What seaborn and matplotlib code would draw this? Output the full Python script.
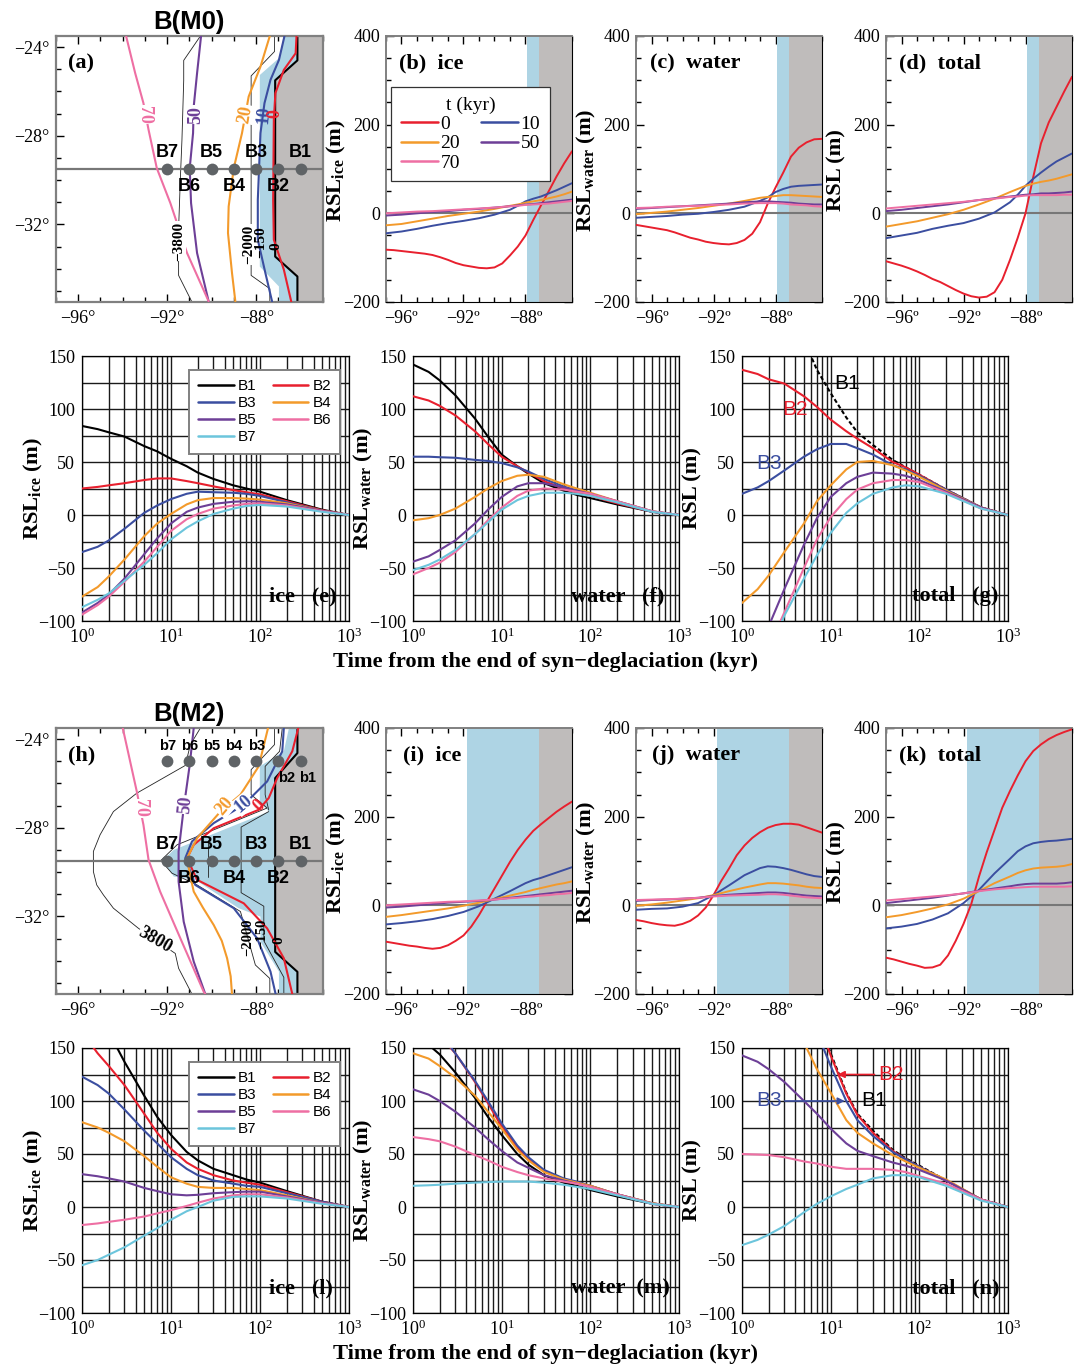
import matplotlib
matplotlib.use("Agg")
import matplotlib.pyplot as plt
import seaborn as sns
import numpy as np
from matplotlib.ticker import FixedLocator, NullFormatter, LogLocator, MultipleLocator

nan = float("nan")

# colours
RED = "#e8202e"
BLUE = "#3b4ea0"
ORANGE = "#f39a2b"
PURPLE = "#6d3f97"
PINK = "#ee6fa3"
CYAN = "#6cc5dc"
SHELF = "#aed4e4"
LAND = "#bfbcbb"
FRAME = "#808080"

# profiles along the transect, per time slice
LON = [-97, -96, -95, -94, -93, -92, -91, -90, -89, -88.5, -88, -87.5, -87, -86.5, -86, -85.5, -85]
LON_FINE = [-97, -96.5, -96, -95.5, -95, -94.5, -94, -93.5, -93, -92.5, -92, -91.5, -91, -90.5, -90, -89.5,
            -89, -88.5, -88, -87.5, -87, -86.5, -86, -85.5, -85]
TIMES = ["0", "10", "20", "50", "70"]

b_t0 = [-82, -83, -85, -87, -89, -91, -94, -99, -105, -112, -117, -120, -123, -124, -122, -113,
        -95, -75, -50, -15, 18, 50, 83, 113, 140]
b_t10 = [-45, -41, -35, -28, -22, -17, -11, -3, 8, 17, 27, 33, 38, 45, 52, 60, 68]
b_t20 = [-27, -24, -18, -12, -6, -1, 4, 10, 17, 20, 24, 27, 30, 34, 38, 43, 49]
b_t50 = [-5, -3, 0, 3, 5, 8, 10, 13, 16, 18, 20, 21, 23, 25, 27, 29, 31]
b_t70 = [0, 2, 4, 5, 7, 9, 11, 13, 16, 17, 19, 20, 21, 22, 24, 26, 28]

c_t0 = [-26, -29, -32, -35, -38, -43, -49, -55, -59, -64, -67, -69, -70, -67, -60, -46,
        -20, 22, 58, 92, 128, 148, 160, 167, 168]
c_t10 = [-10, -8, -6, -3, -1, 3, 8, 15, 28, 36, 48, 55, 60, 62, 63, 64, 65]
c_t20 = [-2, 1, 4, 8, 12, 17, 22, 28, 35, 37, 39, 41, 41, 40, 39, 38, 37]
c_t50 = [10, 12, 14, 16, 18, 20, 22, 25, 27, 27, 26, 25, 24, 22, 21, 20, 20]
c_t70 = [12, 13, 15, 16, 17, 19, 20, 22, 23, 23, 23, 22, 20, 19, 18, 16, 15]

d_t0 = [-108, -113, -118, -124, -131, -139, -148, -155, -164, -173, -181, -187, -190, -188, -178, -150,
        -105, -55, 0, 82, 158, 205, 240, 275, 308]
d_t10 = [-56, -50, -44, -35, -28, -22, -12, 2, 25, 42, 62, 78, 92, 105, 117, 126, 135]
d_t20 = [-30, -24, -18, -10, -2, 8, 20, 33, 48, 55, 62, 67, 71, 74, 78, 83, 88]
d_t50 = [5, 8, 12, 16, 20, 25, 30, 34, 38, 40, 42, 43, 45, 45, 46, 47, 49]
d_t70 = [11, 14, 17, 20, 23, 26, 30, 33, 37, 38, 40, 41, 41, 41, 41, 42, 42]

i_t0 = [-82, -85, -88, -91, -93, -96, -98, -96, -90, -80, -68, -48, -22, 8, 38, 68,
        98, 125, 148, 168, 183, 197, 211, 223, 234]
i_t10 = [-43, -40, -36, -31, -24, -15, -2, 15, 32, 41, 50, 57, 62, 68, 74, 80, 86]
i_t20 = [-26, -22, -17, -12, -7, -1, 6, 14, 22, 26, 30, 35, 39, 43, 47, 50, 54]
i_t50 = [-5, -3, 0, 3, 6, 8, 10, 13, 17, 19, 21, 23, 25, 27, 29, 31, 33]
i_t70 = [0, 2, 4, 6, 8, 9, 11, 13, 16, 17, 19, 20, 22, 23, 25, 26, 28]

j_t0 = [-33, -36, -40, -43, -45, -46, -42, -35, -23, -5, 23, 55, 83, 113, 135, 152,
        165, 175, 181, 184, 184, 182, 176, 170, 164]
j_t10 = [-10, -8, -7, -3, 5, 23, 45, 68, 84, 88, 87, 84, 80, 75, 70, 66, 64]
j_t20 = [-1, 2, 6, 11, 16, 23, 32, 40, 47, 50, 50, 49, 47, 45, 42, 40, 39]
j_t50 = [10, 12, 13, 15, 17, 21, 24, 26, 28, 29, 29, 28, 26, 24, 22, 21, 20]
j_t70 = [12, 13, 14, 15, 17, 20, 22, 23, 24, 25, 25, 24, 22, 20, 18, 17, 16]

k_t0 = [-118, -122, -127, -132, -136, -141, -140, -134, -113, -80, -42, 3, 65, 120, 170, 220,
        258, 293, 325, 348, 363, 375, 384, 391, 397]
k_t10 = [-52, -48, -42, -32, -18, 5, 35, 72, 105, 122, 133, 140, 143, 145, 146, 148, 150]
k_t20 = [-27, -22, -15, -7, 2, 15, 32, 50, 65, 73, 79, 83, 85, 86, 87, 89, 93]
k_t50 = [5, 9, 13, 17, 22, 27, 33, 38, 43, 46, 48, 49, 49, 49, 49, 50, 52]
k_t70 = [11, 14, 17, 20, 23, 27, 32, 36, 39, 40, 41, 42, 42, 42, 42, 42, 43]

# time series at the seven sites
T = [1, 1.5, 2, 3, 5, 7, 10, 15, 20, 30, 50, 70, 100, 200, 500, 1000]
SITES = ["B1", "B2", "B3", "B4", "B5", "B6", "B7"]

e_b1 = [84, 81, 78, 74, 65, 60, 53, 46, 40, 34, 28, 25, 22, 14, 5, 0]
e_b2 = [25, 26.5, 28, 30, 33, 34.5, 34.5, 32, 30, 27, 23.5, 21.5, 19.5, 13, 4.5, 0]
e_b3 = [-35, -30, -24, -13, 2, 9, 15, 20, 22, 21.5, 21, 20, 18, 12, 4, 0]
e_b4 = [-77, -68, -58, -42, -20, -8, 1, 10, 14, 16, 16, 15.5, 14.5, 11, 4, 0]
e_b5 = [-92, -83, -75, -60, -37, -22, -8, 3, 7, 10.5, 12.5, 13, 12.5, 10, 4, 0]
e_b6 = [-94, -85, -77, -63, -44, -30, -15, -4, 1, 6, 9, 10.5, 11, 9, 3.5, 0]
e_b7 = [-87, -80, -74, -62, -47, -36, -23, -12, -6, 1, 6, 8.5, 9.5, 8, 3, 0]

f_b1 = [142, 135, 127, 113, 91, 74, 57, 46, 39, 30, 23, 19, 16, 10, 3, 0]
f_b2 = [112, 108, 103, 94, 79, 67, 55, 46, 40, 32, 25, 21, 18, 11, 3, 0]
f_b3 = [55, 55, 54.5, 54, 52, 51, 49, 45, 41, 34, 27, 23, 20, 12, 3, 0]
f_b4 = [-5, -3, 0, 6, 17, 25, 32, 37, 38, 36, 29, 25, 21, 13, 3.5, 0]
f_b5 = [-44, -39, -33, -24, -8, 5, 17, 27, 30, 30, 26, 23, 20, 13, 3.5, 0]
f_b6 = [-56, -50, -45, -35, -18, -5, 7, 18, 23, 25, 24, 22, 20, 13, 3.5, 0]
f_b7 = [-52, -47, -42, -33, -18, -7, 5, 14, 18, 21, 21, 20, 18, 12, 3, 0]

g_b1 = [nan, nan, nan, nan, 165, 137, 115, 92, 78, 66, 52, 45, 38, 24, 7, 0]
g_b2 = [137, 133, 128, 124, 112, 102, 90, 79, 72, 63, 50, 45, 38, 24, 7, 0]
g_b3 = [20, 26, 32, 42, 55, 62, 67, 67, 63, 57, 47, 43, 37, 24, 7, 0]
g_b4 = [-83, -70, -57, -35, -8, 13, 28, 43, 50, 51, 47, 42, 36, 23, 7, 0]
g_b5 = [nan, nan, -105, -70, -28, -3, 17, 30, 36, 40, 39, 37, 33, 22, 7, 0]
g_b6 = [nan, nan, -125, -92, -50, -23, -2, 15, 24, 30, 33, 33, 31, 21, 6, 0]
g_b7 = [nan, nan, -130, -95, -60, -38, -17, 2, 11, 20, 26, 28, 27, 20, 6, 0]

l_b1 = [nan, nan, 165, 137, 105, 85, 68, 52, 44, 36, 30, 26, 23, 15, 5, 0]
l_b2 = [165, 145, 133, 115, 88, 70, 55, 42, 36, 30, 25, 23, 21, 14, 5, 0]
l_b3 = [123, 115, 107, 92, 72, 60, 47, 36, 30, 25, 22, 20, 19, 13, 5, 0]
l_b4 = [80, 75, 70, 62, 48, 38, 28, 22, 19, 18, 18, 17, 16, 11, 4, 0]
l_b5 = [31, 29, 27, 24, 18, 15, 12, 11, 11.5, 13, 14, 14.5, 14.5, 10, 4, 0]
l_b6 = [-17, -15.5, -14, -12, -9, -6, -3, 1, 4, 8, 11, 12, 12, 9, 3.5, 0]
l_b7 = [-55, -50, -45, -38, -27, -20, -12, -4, 0, 6, 9.5, 10, 10, 8, 3, 0]

m_b1 = [nan, 153, 144, 127, 103, 85, 68, 50, 40, 30, 23, 20, 16, 10, 3, 0]
m_b2 = [nan, nan, 162, 145, 118, 98, 76, 56, 45, 34, 26, 23, 20, 12, 3.5, 0]
m_b3 = [nan, nan, 165, 145, 119, 100, 79, 58, 47, 35, 27, 24, 20, 12, 3.5, 0]
m_b4 = [145, 140, 133, 122, 105, 90, 74, 54, 44, 33, 26, 23, 20, 12, 3.5, 0]
m_b5 = [111, 106, 100, 90, 75, 64, 53, 42, 37, 30, 25, 22, 19, 12, 3, 0]
m_b6 = [66, 64, 62, 57, 49, 44, 38, 33, 30, 27, 24, 22, 19, 12, 3, 0]
m_b7 = [20, 20.5, 21, 22, 23, 23.5, 24, 24, 24, 23, 21, 19, 17, 11, 3, 0]

n_b1 = [nan, nan, nan, nan, nan, 180, 145, 108, 88, 72, 54, 46, 39, 25, 7, 0]
n_b2 = [nan, nan, nan, nan, nan, 180, 143, 107, 87, 70, 53, 45, 38, 25, 7, 0]
n_b3 = [nan, nan, nan, nan, nan, 165, 133, 100, 82, 67, 52, 45, 38, 25, 7, 0]
n_b4 = [nan, nan, nan, nan, 155, 130, 108, 82, 70, 60, 49, 43, 37, 26, 7, 0]
n_b5 = [143, 137, 130, 118, 100, 88, 74, 60, 53, 48, 42, 39, 35, 25, 7, 0]
n_b6 = [50, 49.5, 49, 47, 43, 41, 38, 36, 36, 36, 35, 33, 29, 22, 7, 0]
n_b7 = [-36, -31, -26, -18, -5, 3, 10, 17, 21, 27, 30, 30, 28, 20, 6, 0]

# map (a): coast, shelf edge, depth contours and zero lines
a_coast_lon = [-86.15, -86.15, -87.15, -87.15, -86.15, -86.15]
a_coast_lat = [-23.5, -24.6, -25.5, -33.45, -34.35, -35.5]
a_shelf_lon = [-86.76, -86.98, -87.84, -87.84, -86.98, -86.98]
a_shelf_lat = [-23.5, -24.5, -25.26, -33.9, -34.8, -35.5]
a_2000_lon = [-87.18, -87.18, -88.23, -88.23, -87.39, -87.39]
a_2000_lat = [-23.5, -24.2, -25.3, -34.3, -34.9, -35.5]
a_3800_lon = [-90.51, -91.26, -91.26, -91.34, -91.41, -91.49, -91.49, -90.89]
a_3800_lat = [-23.5, -24.6, -25.5, -28.2, -29.9, -32.2, -34.3, -35.5]
a_70_lon = [-93.85, -93.44, -93.07, -92.84, -92.47, -91.86, -91.11, -90.14]
a_70_lat = [-23.5, -25.18, -26.53, -27.73, -29.46, -31.04, -33.29, -35.47]
a_50_lon = [-90.48, -90.66, -90.81, -90.84, -90.99, -90.93, -90.66, -90.14]
a_50_lat = [-23.5, -25.18, -26.68, -27.88, -29.46, -31.04, -33.29, -35.47]
a_20_lon = [-87.39, -87.81, -88.34, -88.64, -89.01, -89.24, -89.27, -89.09, -88.94]
a_20_lat = [-23.5, -24.88, -26.23, -27.88, -29.46, -31.19, -32.39, -34.19, -35.47]
a_10_lon = [-86.73, -86.98, -87.36, -87.63, -87.81, -87.93, -87.93, -87.59, -87.29]
a_10_lat = [-23.5, -24.58, -25.48, -26.53, -27.88, -30.89, -32.69, -34.19, -35.47]
a_0_lon = [-86.19, -86.23, -86.76, -87.14, -87.21, -87.24, -87.21, -86.76, -86.43]
a_0_lat = [-23.5, -24.28, -25.03, -26.08, -27.28, -30.89, -32.69, -34.04, -35.47]

# map (h)
h_coast_lon = [-86.15, -86.15, -87.15, -87.15, -86.15, -86.15]
h_coast_lat = [-23.5, -24.63, -25.76, -33.6, -34.5, -35.5]
h_shelf_lon = [-86.53, -86.76, -87.84, -87.84, -87.44, -91.71, -92.2, -91.71, -90.74, -88.79, -87.81, -87.81, -86.98, -86.98]
h_shelf_lat = [-23.5, -24.55, -25.23, -26.81, -27.27, -29.0, -29.48, -30.2, -30.35, -31.63, -32.01, -33.14, -34.49, -35.5]
h_2000_lon = [-87.18, -87.18, -88.23, -88.23, -87.51, -91.56, -92.29, -91.79, -90.66, -88.71, -88.04, -87.39, -87.39]
h_2000_lat = [-23.5, -24.25, -25.38, -26.51, -27.11, -28.77, -29.48, -30.05, -30.58, -31.78, -34.19, -34.8, -35.5]
h_3800_lon = [-90.51, -90.96, -91.19, -93.37, -94.42, -95.02, -95.32, -95.32, -95.17, -94.87, -94.42, -93.29, -91.64, -91.49, -90.89]
h_3800_lat = [-23.5, -24.25, -25.19, -26.44, -27.27, -28.32, -29.07, -29.98, -30.58, -31.03, -31.63, -32.54, -33.67, -34.34, -35.5]
h_1000_lon = [-87.44, -88.68, -88.68, -87.66, -87.66, -86.76, -86.76]
h_1000_lat = [-27.27, -27.97, -30.93, -31.54, -33.1, -34.75, -35.5]
h_500_lon = [-90.17, -90.17]
h_500_lat = [-28.55, -30.2]
h_200_lon = [-86.83, -86.95, -87.6, -87.6, -87.44]
h_200_lat = [-23.5, -24.55, -25.23, -26.51, -27.2]
h_70_lon = [-94.0, -93.37, -93.07, -92.84, -92.32, -91.41, -90.36, -90.29]
h_70_lat = [-23.5, -26.36, -27.87, -29.45, -30.88, -32.99, -35.4, -35.5]
h_50_lon = [-90.81, -90.99, -91.26, -91.49, -91.49, -91.26, -90.81, -90.29]
h_50_lat = [-23.5, -25.16, -27.11, -29.07, -30.43, -32.24, -34.04, -35.5]
h_20_lon = [-87.47, -87.89, -88.71, -89.61, -90.66, -91.11, -90.98, -90.81, -90.4, -89.91, -89.55, -89.31, -89.15, -89.09]
h_20_lat = [-23.5, -25.23, -26.51, -27.27, -28.47, -29.37, -30.1, -30.88, -31.6, -32.39, -33.1, -33.89, -34.7, -35.5]
h_10_lon = [-86.76, -86.83, -87.51, -88.56, -89.91, -90.89, -91.19, -90.74, -89.01, -87.96, -87.36, -87.13]
h_10_lat = [-23.5, -24.55, -25.91, -26.96, -27.79, -28.62, -29.37, -30.58, -31.63, -32.99, -34.49, -35.5]
h_0_lon = [-86.11, -86.38, -87.06, -87.44, -87.89, -89.91, -90.81, -91.11, -90.66, -88.56, -87.51, -86.76, -86.38]
h_0_lat = [-23.5, -24.55, -25.76, -26.66, -27.19, -28.02, -28.77, -29.37, -30.35, -31.41, -32.54, -33.89, -35.5]

SITE_LON = [-86, -87, -88, -89, -90, -91, -92]
SITE_LAT = -29.5
b_SITE_LAT = -24.98

W, H = 1081, 1367
sns.set_style("ticks")
plt.rcParams["font.family"] = ["Liberation Serif", "DejaVu Serif"]
plt.rcParams["mathtext.fontset"] = "custom"
plt.rcParams["mathtext.rm"] = "Liberation Serif:bold"
plt.rcParams["mathtext.default"] = "rm"
plt.rcParams["axes.unicode_minus"] = True
plt.rcParams["text.color"] = "black"
plt.rcParams["xtick.color"] = "black"
plt.rcParams["ytick.color"] = "black"
plt.rcParams["axes.edgecolor"] = "black"
SANS = "Liberation Sans"

fig = plt.figure(figsize=(W / 100, H / 100), dpi=100, facecolor="white")


def px_axes(x0, y0, x1, y1):
    return fig.add_axes([x0 / W, 1 - y1 / H, (x1 - x0) / W, (y1 - y0) / H])


def px_text(x, y, s, **kw):
    kw.setdefault("ha", "center")
    kw.setdefault("va", "center")
    fig.text(x / W, 1 - y / H, s, **kw)


def draw(ax, x, y, color, lw=1.5, label=None, ls="-", zorder=3):
    sns.lineplot(x=x, y=y, ax=ax, color=color, linewidth=lw, estimator=None, sort=False,
                 legend=False, label=label, linestyle=ls, zorder=zorder)
    ax.set_xlabel("")
    ax.set_ylabel("")


def lon_ticks(ax, degree):
    ax.set_xlim(-97, -85)
    ax.xaxis.set_major_locator(FixedLocator([-96, -92, -88]))
    ax.xaxis.set_minor_locator(MultipleLocator(1))
    ax.set_xticklabels(["\u221296" + degree, "\u221292" + degree, "\u221288" + degree])
    ax.tick_params(which="major", direction="in", top=True, right=True, length=6, width=1,
                   labelsize=13, pad=6)
    ax.tick_params(which="minor", direction="in", top=True, right=True, length=3.5, width=1)


def draw_map(ax, coast, shelf, lines, curves, row_b=False):
    ax.fill(list(shelf[0]) + list(coast[0])[::-1], list(shelf[1]) + list(coast[1])[::-1],
            color=SHELF, lw=0, zorder=1)
    ax.fill(list(coast[0]) + [-85, -85], list(coast[1]) + [-35.5, -23.5], color=LAND, lw=0, zorder=1)
    lon_ticks(ax, "\u00b0")
    ax.set_ylim(-35.5, -23.5)
    ax.yaxis.set_major_locator(FixedLocator([-24, -28, -32]))
    ax.yaxis.set_minor_locator(MultipleLocator(1))
    ax.set_yticklabels(["\u221224\u00b0", "\u221228\u00b0", "\u221232\u00b0"])
    ax.tick_params(axis="y", which="major", pad=5)
    for spine in ax.spines.values():
        spine.set_color(FRAME)
        spine.set_linewidth(1.6)
    draw(ax, coast[0], coast[1], "black", lw=1.5, zorder=2)
    for lo, la in lines:
        draw(ax, lo, la, "#222222", lw=0.6, zorder=2)
    ax.axhline(SITE_LAT, color="#777777", lw=1.6, zorder=3)
    for (lo, la), col in zip(curves, [RED, BLUE, ORANGE, PURPLE, PINK]):
        draw(ax, lo, la, col, lw=1.5, zorder=4)
    sns.scatterplot(x=SITE_LON, y=[SITE_LAT] * 7, ax=ax, color="#5f6366", s=72, linewidth=0,
                    zorder=5, legend=False)
    if row_b:
        sns.scatterplot(x=SITE_LON, y=[b_SITE_LAT] * 7, ax=ax, color="#5f6366", s=72, linewidth=0,
                        zorder=5, legend=False)
    up, low = -28.75, -30.3
    for name, lo, la in zip(SITES, SITE_LON, [up, low, up, low, up, low, up]):
        ax.text(lo, la, name, family=SANS, weight="bold", size=13, ha="center", va="center", zorder=6)


def clabel(ax, x, y, s, color="black", rot=90, size=13, gap=True):
    ax.text(x, y, s, color=color, rotation=rot, size=size, weight="bold", ha="center", va="center",
            rotation_mode="anchor", zorder=6,
            bbox=dict(facecolor="white", edgecolor="none", pad=0.4) if gap else None)


def draw_profile(ax, series, shelf_from):
    ax.axvspan(shelf_from, -87.1, color=SHELF, lw=0, zorder=1)
    ax.axvspan(-87.1, -85, color=LAND, lw=0, zorder=1)
    ax.axhline(0, color="#777777", lw=1.5, zorder=2)
    for name, vals, col in zip(TIMES, series, [RED, BLUE, ORANGE, PURPLE, PINK]):
        x = LON_FINE if len(vals) == len(LON_FINE) else LON
        draw(ax, x, vals, col, lw=1.4, label=name)
    lon_ticks(ax, "\u00ba")
    ax.set_ylim(-200, 400)
    ax.yaxis.set_major_locator(FixedLocator([-200, 0, 200, 400]))
    ax.yaxis.set_minor_locator(MultipleLocator(50))
    ax.set_yticklabels(["\u2212200", "0", "200", "400"])
    ax.tick_params(axis="y", which="major", pad=4)
    ax.spines["left"].set_color(FRAME)
    ax.spines["left"].set_linewidth(1.4)
    ax.spines["top"].set_color(FRAME)
    ax.spines["top"].set_linewidth(1.4)
    for s in ["right", "bottom"]:
        ax.spines[s].set_linewidth(0.8)


def draw_series(ax, series, dashed_b1=False):
    ax.set_xscale("log")
    ax.set_xlim(1, 1000)
    ax.set_ylim(-100, 150)
    ax.xaxis.set_major_locator(LogLocator(base=10, numticks=5))
    ax.xaxis.set_minor_locator(LogLocator(base=10, subs=range(2, 10), numticks=5))
    ax.xaxis.set_minor_formatter(NullFormatter())
    ax.yaxis.set_major_locator(FixedLocator([-100, -50, 0, 50, 100, 150]))
    ax.yaxis.set_minor_locator(FixedLocator([-75, -25, 25, 75, 125]))
    ax.set_yticklabels(["\u2212100", "\u221250", "0", "50", "100", "150"])
    ax.grid(which="both", color="#1a1a1a", lw=1.0)
    ax.set_axisbelow(True)
    ax.tick_params(which="both", length=0, labelsize=13, pad=5)
    for s in ax.spines.values():
        s.set_linewidth(0.9)
    cols = ["black", RED, BLUE, ORANGE, PURPLE, PINK, CYAN]
    for k, (name, vals, col) in enumerate(zip(SITES, series, cols)):
        ls = (0, (2, 1.2)) if (dashed_b1 and k == 0) else "-"
        draw(ax, T, vals, col, lw=1.5, label=name, ls=ls)


def ax_px(ax):
    p = ax.get_position()
    return p.x0 * W, (1 - p.y1) * H, p.width * W, p.height * H


def site_legend(ax, x0, y0):
    h, l = ax.get_legend_handles_labels()
    order = [0, 2, 4, 6, 1, 3, 5]
    ax0, ay0, aw, ah = ax_px(ax)
    leg = ax.legend([h[i] for i in order], [l[i] for i in order], ncol=2, loc="upper left",
                    bbox_to_anchor=((x0 - ax0) / aw, 1 - (y0 - ay0) / ah),
                    frameon=True, fancybox=False, framealpha=1, edgecolor=FRAME, prop={"family": SANS, "size": 11},
                    borderaxespad=0, borderpad=0.6, labelspacing=0.2, handlelength=2.35, handletextpad=0.25,
                    columnspacing=1.05)
    leg.get_frame().set_linewidth(1.4)
    leg.set_zorder(10)
    for line in leg.get_lines():
        line.set_linewidth(1.8)


# top block: M0
ax_a = px_axes(56, 36, 323, 302)
draw_map(ax_a, (a_coast_lon, a_coast_lat), (a_shelf_lon, a_shelf_lat),
         [(a_2000_lon, a_2000_lat), (a_3800_lon, a_3800_lat)],
         [(a_0_lon, a_0_lat), (a_10_lon, a_10_lat), (a_20_lon, a_20_lat), (a_50_lon, a_50_lat), (a_70_lon, a_70_lat)])
clabel(ax_a, -93.02, -27.06, "70", PINK, 270)
clabel(ax_a, -90.74, -27.06, "50", PURPLE, 90)
clabel(ax_a, -88.49, -27.03, "20", ORANGE, 80)
clabel(ax_a, -87.66, -27.06, "10", BLUE, 85, gap=False)
clabel(ax_a, -87.18, -27.0, "0", RED, 90, gap=False)
clabel(ax_a, -87.14, -33.0, "0", "black", 90, 11, gap=False)
clabel(ax_a, -91.49, -32.76, "\u22123800", "black", 90, 11)
clabel(ax_a, -88.34, -32.9, "\u22122000", "black", 90, 11)
clabel(ax_a, -87.8, -32.8, "\u2212150", "black", 90, 11, gap=False)
ax_a.text(-96.45, -24.75, "(a)", weight="bold", size=16, va="center")

ax_b = px_axes(386, 36, 572, 302)
draw_profile(ax_b, [b_t0, b_t10, b_t20, b_t50, b_t70], -87.9)
h_, l_ = ax_b.get_legend_handles_labels()
order_t = [0, 2, 4, 1, 3]
leg = ax_b.legend([h_[i] for i in order_t], [l_[i] for i in order_t], ncol=2, title="t (kyr)", loc="upper left",
                  bbox_to_anchor=(5 / 186, 1 - 51 / 266), frameon=True, fancybox=False, framealpha=1, edgecolor="#333333",
                  prop={"size": 14}, title_fontsize=14, borderaxespad=0, borderpad=0.5, labelspacing=0.08,
                  handlelength=1.9, handletextpad=0.15, columnspacing=1.05)
leg.get_frame().set_linewidth(0.9)
leg.set_zorder(10)
for line in leg.get_lines():
    line.set_linewidth(1.8)
ax_c = px_axes(636, 36, 822, 302)
draw_profile(ax_c, [c_t0, c_t10, c_t20, c_t50, c_t70], -87.9)
ax_d = px_axes(886, 36, 1072, 302)
draw_profile(ax_d, [d_t0, d_t10, d_t20, d_t50, d_t70], -87.9)

ax_e = px_axes(82, 356, 349, 621)
draw_series(ax_e, [e_b1, e_b2, e_b3, e_b4, e_b5, e_b6, e_b7])
site_legend(ax_e, 189, 370)
ax_f = px_axes(413, 356, 679, 621)
draw_series(ax_f, [f_b1, f_b2, f_b3, f_b4, f_b5, f_b6, f_b7])
ax_g = px_axes(742, 356, 1008, 621)
draw_series(ax_g, [g_b1, g_b2, g_b3, g_b4, g_b5, g_b6, g_b7], dashed_b1=True)
ax_g.text(15.5, 124.5, "B1", family=SANS, size=15, color="black", ha="center", va="center")
ax_g.text(3.94, 100, "B2", family=SANS, size=15, color=RED, ha="center", va="center")
ax_g.text(2.0, 49, "B3", family=SANS, size=15, color=BLUE, ha="center", va="center")

# bottom block: M2
ax_h = px_axes(56, 728, 323, 994)
draw_map(ax_h, (h_coast_lon, h_coast_lat), (h_shelf_lon, h_shelf_lat),
         [(h_2000_lon, h_2000_lat), (h_3800_lon, h_3800_lat), (h_1000_lon, h_1000_lat), (h_500_lon, h_500_lat),
          (h_200_lon, h_200_lat)],
         [(h_0_lon, h_0_lat), (h_10_lon, h_10_lat), (h_20_lon, h_20_lat), (h_50_lon, h_50_lat), (h_70_lon, h_70_lat)],
         row_b=True)
clabel(ax_h, -93.19, -27.11, "70", PINK, 270)
clabel(ax_h, -91.19, -26.96, "50", PURPLE, 85)
clabel(ax_h, -89.43, -27.04, "20", ORANGE, 50)
clabel(ax_h, -88.59, -26.93, "10", BLUE, 40)
clabel(ax_h, -87.84, -27.0, "0", RED, 45, gap=False)
clabel(ax_h, -92.54, -33.06, "3800", "black", -30)
clabel(ax_h, -88.4, -32.95, "\u22122000", "black", 90, 10.5, gap=False)
clabel(ax_h, -87.75, -32.8, "\u2212150", "black", 90, 10.5, gap=False)
clabel(ax_h, -87.0, -33.05, "0", "black", 90, 11, gap=False)
ax_h.text(-96.45, -24.75, "(h)", weight="bold", size=16, va="center")
for name, lo in zip(["b7", "b6", "b5", "b4", "b3"], [-92, -91, -90, -89, -88]):
    ax_h.text(lo, -24.3, name, family=SANS, weight="bold", size=10.5, ha="center", va="center", zorder=6)
ax_h.text(-86.64, -25.76, "b2", family=SANS, weight="bold", size=10.5, ha="center", va="center", zorder=6)
ax_h.text(-85.68, -25.76, "b1", family=SANS, weight="bold", size=10.5, ha="center", va="center", zorder=6)

ax_i = px_axes(386, 728, 572, 994)
draw_profile(ax_i, [i_t0, i_t10, i_t20, i_t50, i_t70], -91.8)
ax_j = px_axes(636, 728, 822, 994)
draw_profile(ax_j, [j_t0, j_t10, j_t20, j_t50, j_t70], -91.8)
ax_k = px_axes(886, 728, 1072, 994)
draw_profile(ax_k, [k_t0, k_t10, k_t20, k_t50, k_t70], -91.8)

ax_l = px_axes(82, 1048, 349, 1313)
draw_series(ax_l, [l_b1, l_b2, l_b3, l_b4, l_b5, l_b6, l_b7])
site_legend(ax_l, 189, 1062)
ax_m = px_axes(413, 1048, 679, 1313)
draw_series(ax_m, [m_b1, m_b2, m_b3, m_b4, m_b5, m_b6, m_b7])
ax_n = px_axes(742, 1048, 1008, 1313)
draw_series(ax_n, [n_b1, n_b2, n_b3, n_b4, n_b5, n_b6, n_b7], dashed_b1=True)
ax_n.text(48.4, 125, "B2", family=SANS, size=15, color=RED, ha="center", va="center")
ax_n.text(2.0, 100, "B3", family=SANS, size=15, color=BLUE, ha="center", va="center")
ax_n.text(31.2, 100, "B1", family=SANS, size=15, color="black", ha="center", va="center")
ax_n.annotate("", xy=(12, 125), xytext=(31.2, 125), zorder=6,
              arrowprops=dict(arrowstyle="-|>", color=RED, lw=1.2, shrinkA=0, shrinkB=0))
ax_n.annotate("", xy=(14.4, 100), xytext=(3.04, 100), zorder=6,
              arrowprops=dict(arrowstyle="-|>", color=BLUE, lw=1.2, shrinkA=0, shrinkB=0))

# titles and panel tags, in figure pixels
px_text(189, 22, "B(M0)", family=SANS, weight="bold", size=18.5)
px_text(189, 714, "B(M2)", family=SANS, weight="bold", size=18.5)
for x, y, s in [(399, 63, "(b)  ice"), (650, 63, "(c)  water"), (899, 63, "(d)  total"),
                (403, 755, "(i)  ice"), (652, 755, "(j)  water"), (899, 755, "(k)  total"),
                (269, 596, "ice   (e)"), (571, 596, "water   (f)"), (912, 596, "total   (g)"),
                (269, 1288, "ice   (l)"), (571, 1288, "water  (m)"), (912, 1288, "total   (n)")]:
    px_text(x, y, s, ha="left", weight="bold", size=16, zorder=20)

LAB_ICE = "RSL$_{\\mathrm{ice}}$ (m)"
LAB_WATER = "RSL$_{\\mathrm{water}}$ (m)"
LAB_TOTAL = "RSL (m)"
for y0, y1 in [(170, 488), (862, 1180)]:
    for x, s in [(336, LAB_ICE), (586, LAB_WATER), (836, LAB_TOTAL)]:
        px_text(x, y0, s, rotation=90, weight="bold", size=16.2)
    for x, s in [(33, LAB_ICE), (363, LAB_WATER), (692, LAB_TOTAL)]:
        px_text(x, y1, s, rotation=90, weight="bold", size=16.2)
for y in [662, 1354]:
    px_text(546, y, "Time from the end of syn\u2212deglaciation (kyr)", weight="bold", size=16.2)

fig.savefig("out.png", dpi=100, facecolor="white")
